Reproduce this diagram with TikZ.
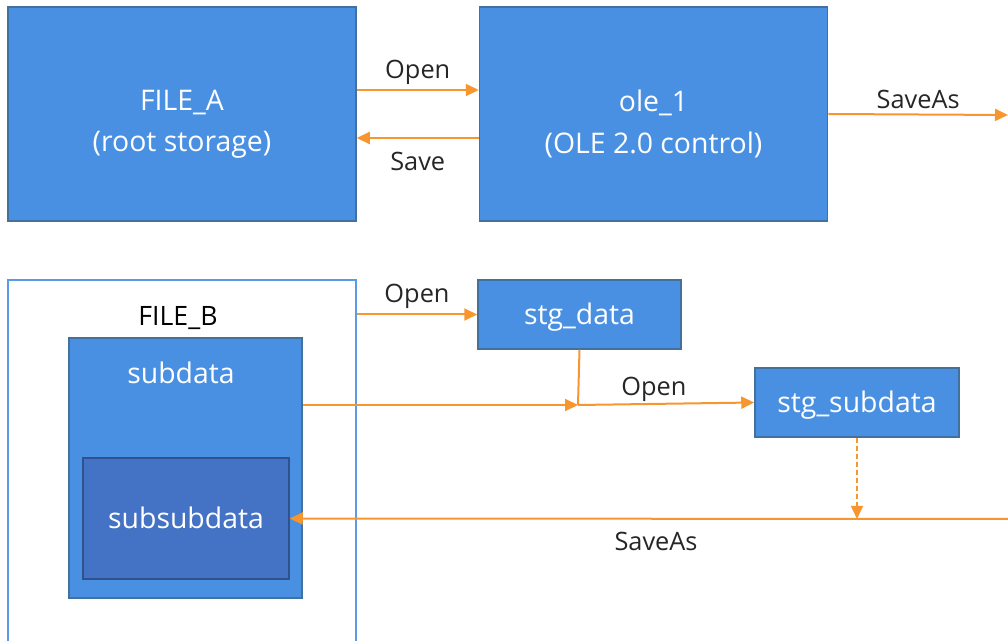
\documentclass[tikz,border=0pt]{standalone}
\usepackage{fontspec}
\setmainfont{Open Sans}
\usetikzlibrary{positioning,arrows.meta}
\newdimen\px \px=0.75pt
\definecolor{boxblue}{HTML}{4A90E2}
\definecolor{boxline}{HTML}{41719C}
\definecolor{deepblue}{HTML}{4472C4}
\definecolor{deepline}{HTML}{2F528F}
\definecolor{filepen}{HTML}{5B9BE6}
\definecolor{flow}{HTML}{F7962F}
\tikzset{
  store/.style={draw=boxline, fill=boxblue, line width=1.5\px, text=white,
    font=\fontsize{21.3}{31}\selectfont, inner sep=0pt,
    text height=15pt, text depth=0pt},
  boxtext/.style={text=white, align=center, font=\fontsize{21.3}{31}\selectfont},
  lbl/.style={text=black!85, font=\fontsize{19}{22}\selectfont},
  flowline/.style={draw=flow, line width=2\px},
}
\begin{document}
\begin{tikzpicture}[x=0.75pt,y=-0.75pt,>={Triangle[length=9.75pt,width=9pt]}]
  \useasboundingbox (0,0) rectangle (1008,641);
  % top row
  \node[store, minimum width=348\px, minimum height=214\px] (filea) at (182,114) {};
  \node[store, minimum width=348\px, minimum height=214\px, right=122\px of filea] (ole) {};
  \node[boxtext] (filealbl) at ([yshift=-10\px]filea.center) {FILE\_A\\(root storage)};
  \node[boxtext] (olelbl) at ([yshift=-10\px]ole.center) {ole\_1\\(OLE 2.0 control)};
  \coordinate (outa) at (1008,115);
  % bottom row
  \node[draw=filepen, line width=1.5\px, minimum width=348\px, minimum height=380\px, inner sep=0pt] (fileb) at (182,470) {};
  \node[lbl, text=black, font=\fontsize{20}{24}\selectfont] (fileblbl) at (178,318) {FILE\_B};
  \node[store, minimum width=233\px, minimum height=260\px] (subdata) at (185.5,468) {};
  \node[boxtext] (subdatalbl) at (181,373) {subdata};
  \node[store, fill=deepblue, draw=deepline, minimum width=206\px, minimum height=121\px] (subsub) at (186,518.5) {subsubdata};
  \node[store, minimum width=203\px, minimum height=69\px] (stgdata) at (579.5,314.5) {stg\_data};
  \node[store, minimum width=204\px, minimum height=69\px] (stgsub) at (857,402.5) {stg\_subdata};
  \coordinate (jn) at (578,405);
  \coordinate (outb) at (1008,519);
  % connectors
  \draw[flowline,->] ([yshift=24\px]filea.east) -- node[lbl,above]{Open} ([yshift=24\px]ole.west);
  \draw[flowline,->] ([yshift=-24\px]ole.west) -- node[lbl,below=9\px]{Save} ([yshift=-24\px]filea.east);
  \draw[flowline,->] (ole.east) -- node[lbl,above]{SaveAs} (outa);
  \draw[flowline,->] (stgdata.west -| fileb.east) -- node[lbl,above]{Open} (stgdata.west);
  \draw[flowline,->] (subdata.east |- jn) -- (jn);
  \draw[flowline] (stgdata.south) -- (jn);
  \draw[flowline,->] (jn) -- node[lbl,above,inner sep=1\px,pos=0.43]{Open} (stgsub.west);
  \draw[flowline,line width=1.5\px,dash pattern=on 5\px off 3\px,->] (stgsub.south) -- (stgsub.south |- outb);
  \draw[flowline,->] (outb) -- node[lbl,below=8\px,pos=0.49]{SaveAs} (subsub.east);
\end{tikzpicture}
\end{document}
